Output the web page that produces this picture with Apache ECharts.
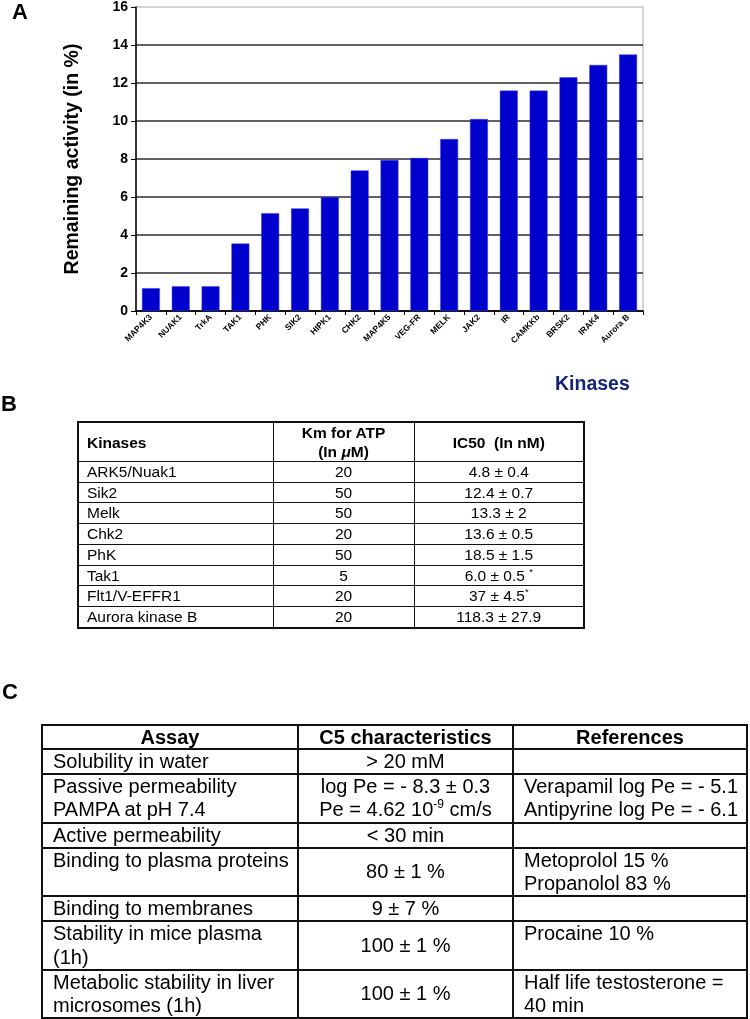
<!DOCTYPE html>
<html><head><meta charset="utf-8">
<script src="https://cdn.jsdelivr.net/npm/echarts/dist/echarts.min.js"></script>
<style>
html,body{margin:0;padding:0;background:#fff;}
#chart{position:absolute;left:0;top:0;width:750px;height:1019px;}
table{position:absolute;border-collapse:collapse;table-layout:fixed;font-family:'Liberation Sans',Arial,sans-serif;color:#000;z-index:2;}
#tb{left:77px;top:421px;width:506px;font-size:15.5px;border:2px solid #111;}
#tb td{border:1.5px solid #111;padding:0;line-height:19.7px;height:19.7px;text-align:center;white-space:nowrap;overflow:hidden;}
#tb td.l{text-align:left;padding-left:8px;}
#tb tr.h td{height:38px;font-weight:bold;line-height:19px;}
#tc{left:41px;top:724px;width:705px;font-size:20px;border:2px solid #111;}
#tc td{border:2px solid #111;padding:0;line-height:23.2px;vertical-align:top;white-space:nowrap;overflow:hidden;}
#tc td.l{text-align:left;padding-left:10px;}
#tc td.c{text-align:center;vertical-align:middle;}
#tc tr.h td{font-weight:bold;text-align:center;vertical-align:middle;line-height:22px;}
sup{font-size:60%;line-height:0;}
</style>
</head><body>
<div id="chart"></div>
<table id="tb"><colgroup><col style="width:195px"><col style="width:141px"><col style="width:170px"></colgroup><tbody id="tbBody"></tbody></table>
<table id="tc"><colgroup><col style="width:256px"><col style="width:215px"><col style="width:234px"></colgroup><tbody id="tcBody"></tbody></table>
<script>
// ---- Panel A data ----
const kinases = ['MAP4K3','NUAK1','TrkA','TAK1','PHK','SIK2','HIPK1','CHK2','MAP4K5','VEG-FR','MELK','JAK2','IR','CAMKKb','BRSK2','IRAK4','Aurora B'];
const remainingActivity = [1.2,1.3,1.3,3.55,5.15,5.4,6.0,7.4,7.95,8.05,9.05,10.1,11.6,11.6,12.3,12.95,13.5];
const yMin = 0, yMax = 16, yStep = 2;

// ---- Panel B data ----
const tbHeader = ['Kinases','Km for ATP\n(In <i>μ</i>M)','IC50&nbsp; (In nM)'];
const tbKinase = ['ARK5/Nuak1','Sik2','Melk','Chk2','PhK','Tak1','Flt1/V-EFFR1','Aurora kinase B'];
const tbKm = ['20','50','50','20','50','5','20','20'];
const tbIC50 = ['4.8 ± 0.4','12.4 ± 0.7','13.3 ± 2','13.6 ± 0.5','18.5 ± 1.5','6.0 ± 0.5 <sup>*</sup>','37 ± 4.5<sup>*</sup>','118.3 ± 27.9'];

// ---- Panel C data ----
const tcHeader = ['Assay','C5 characteristics','References'];
const tcAssay = ['Solubility in water','Passive permeability\nPAMPA at pH 7.4','Active permeability','Binding to plasma proteins','Binding to membranes','Stability in mice plasma\n(1h)','Metabolic stability in liver\nmicrosomes (1h)'];
const tcC5 = ['> 20 mM','log Pe = - 8.3 ± 0.3\nPe = 4.62 10<sup>-9</sup> cm/s','< 30 min','80 ± 1 %','9 ± 7 %','100 ± 1 %','100 ± 1 %'];
const tcRefs = ['','Verapamil log Pe = - 5.1\nAntipyrine log Pe = - 6.1','','Metoprolol 15 %\nPropanolol 83 %','','Procaine 10 %','Half life testosterone =\n40 min'];
const tcRowLines = [1,2,1,2,1,2,2];

const FF = "'Liberation Sans', Arial, Helvetica, sans-serif";
const br = s => s.replace(/</g,'&lt;').replace(/&lt;sup>/g,'<sup>').replace(/&lt;\/sup>/g,'</sup>').replace(/&lt;i>/g,'<i>').replace(/&lt;\/i>/g,'</i>').replace(/\n/g,'<br>');

// build table B
(function(){
  const body = document.getElementById('tbBody');
  let h = '<tr class="h"><td class="l">'+tbHeader[0]+'</td><td>'+tbHeader[1].replace(/\n/g,'<br>')+'</td><td>'+tbHeader[2]+'</td></tr>';
  for (let i=0;i<tbKinase.length;i++){
    h += '<tr><td class="l">'+tbKinase[i]+'</td><td>'+tbKm[i]+'</td><td>'+tbIC50[i]+'</td></tr>';
  }
  body.innerHTML = h;
})();
// build table C
(function(){
  const body = document.getElementById('tcBody');
  let h = '<tr class="h"><td style="height:22px">'+tcHeader[0]+'</td><td>'+tcHeader[1]+'</td><td>'+tcHeader[2]+'</td></tr>';
  for (let i=0;i<tcAssay.length;i++){
    const ht = tcRowLines[i]===2 ? 46.4 : 23.2;
    const c5two = tcC5[i].indexOf('\n')>=0;
    h += '<tr><td class="l" style="height:'+ht+'px">'+br(tcAssay[i])+'</td><td class="c"'+(c5two?' style="vertical-align:top"':'')+'>'+br(tcC5[i])+'</td><td class="l">'+br(tcRefs[i])+'</td></tr>';
  }
  body.innerHTML = h;
})();

const chart = echarts.init(document.getElementById('chart'), null, {renderer:'canvas'});
const label = (t,l,top,size,color) => ({text:t,left:l,top:top,padding:0,textStyle:{fontSize:size,fontWeight:'bold',color:color,fontFamily:FF}});
chart.setOption({
  animation:false,
  backgroundColor:'#fff',
  title:[label('A',12,2,22,'#000'), label('B',1,394,22,'#000'), label('C',2,682,22,'#000'), label('Kinases',555,375,19.5,'#16237a')],
  grid:{left:136,right:107,top:5,bottom:708,show:true,borderColor:'#a8a8a8',borderWidth:1,backgroundColor:'transparent'},
  xAxis:{
    type:'category', data:kinases,
    axisLine:{lineStyle:{color:'#000',width:1.5}},
    axisTick:{show:true,length:4,lineStyle:{color:'#000',width:1}},
    axisLabel:{rotate:45,interval:0,fontSize:8.5,fontWeight:'bold',color:'#000',margin:5,fontFamily:FF}
  },
  yAxis:{
    type:'value', min:yMin, max:yMax, interval:yStep,
    name:'Remaining activity (in %)', nameLocation:'middle', nameGap:53,
    nameTextStyle:{fontSize:19.5,fontWeight:'bold',color:'#000',fontFamily:FF},
    axisLine:{show:true,lineStyle:{color:'#000',width:1.5}},
    axisTick:{show:true,length:5,lineStyle:{color:'#000',width:1}},
    axisLabel:{fontSize:14,fontWeight:'bold',color:'#000',margin:8,fontFamily:FF},
    splitLine:{show:true,showMaxLine:false,lineStyle:{color:'#2e2e2e',width:1.5}}
  },
  series:[{type:'bar',data:remainingActivity,barWidth:'60%',itemStyle:{color:'#0000cc',borderColor:'#3a3aee',borderWidth:0.5}}]
});
</script>
</body></html>
